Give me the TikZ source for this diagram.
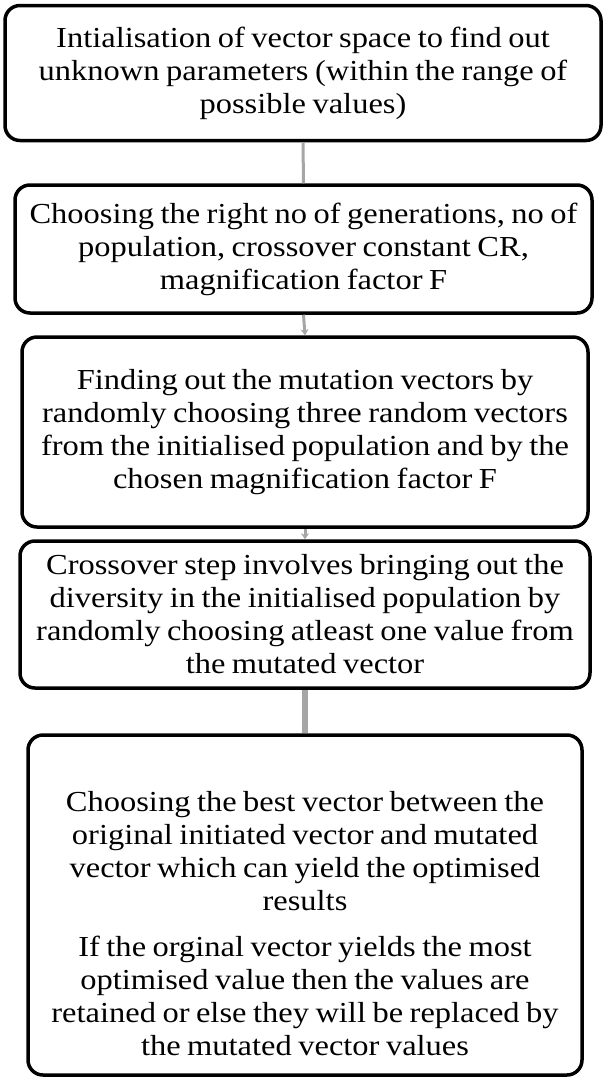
\documentclass[tikz,border=0pt]{standalone}
\usepackage{fontspec}
\setmainfont{Liberation Serif}[FakeStretch=1.12,WordSpace=0.8]
\usetikzlibrary{arrows.meta}
\definecolor{linkgray}{RGB}{166,166,166}

\tikzset{
  stepbox/.style={draw=black,line width=3.5pt,rounded corners=15pt,
    align=center,inner sep=0pt,font=\fontsize{29}{33}\selectfont},
  link/.style={linkgray,line width=3pt},
  arrowlink/.style={link,-{Stealth[length=6pt,width=8pt]}},
  heavylink/.style={linkgray,line width=6pt}
}

\begin{document}
\begin{tikzpicture}[x=1pt,y=-1pt]
    \useasboundingbox (0,0) rectangle (606,1080);

    % Steps
    \node[stepbox,minimum width=596pt,minimum height=135pt] (init) at (303,73)
        {Intialisation of vector space to find out\\
         unknown parameters (within the range of\\
         possible values)};
    \node[stepbox,minimum width=577pt,minimum height=128pt] (params) at (303.5,249)
        {Choosing the right no of generations, no of\\
         population, crossover constant CR,\\
         magnification factor F};
    \node[stepbox,minimum width=566pt,minimum height=190pt] (mutate) at (305,432)
        {Finding out the mutation vectors by\\
         randomly choosing three random vectors\\
         from the initialised population and by the\\
         chosen magnification factor F};
    \node[stepbox,minimum width=570pt,minimum height=147pt] (cross) at (305,614.5)
        {Crossover step involves bringing out the\\
         diversity in the initialised population by\\
         randomly choosing atleast one value from\\
         the mutated vector};
    \node[stepbox,minimum width=554pt,minimum height=340pt] (select) at (305,905)
        {\rule{0pt}{58pt}Choosing the best vector between the\\
         original initiated vector and mutated\\
         vector which can yield the optimised\\
         results\\[13pt]
         If the orginal vector yields the most\\
         optimised value then the values are\\
         retained or else they will be replaced by\\
         the mutated vector values};

    % Links
    \draw[link] (init.south) -- (params.north);
    \draw[arrowlink] (params.south) -- (mutate.north);
    \draw[arrowlink] (mutate.south) -- (cross.north);
    \draw[heavylink] (cross.south) -- (select.north);
\end{tikzpicture}
\end{document}
